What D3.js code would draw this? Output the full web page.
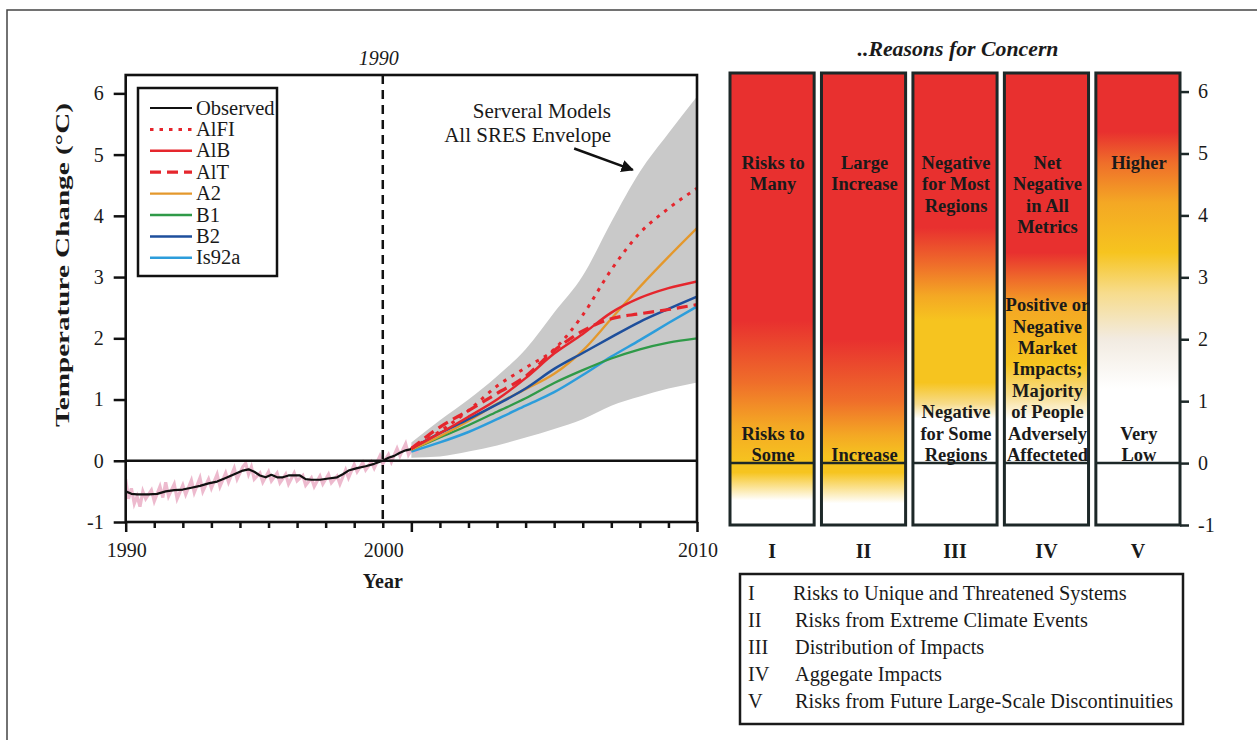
<!DOCTYPE html>
<html><head><meta charset="utf-8">
<script src="https://cdn.jsdelivr.net/npm/d3@7/dist/d3.min.js"></script>
<style>
body{margin:0;background:#fff}
svg{display:block}
text{font-family:"Liberation Serif","Times New Roman",serif;fill:#1a1a1a}
</style>
</head><body>
<svg id="c" width="1257" height="740"></svg>
<script>
// ---------------- DATA ----------------
const yTicks = [-1, 0, 1, 2, 3, 4, 5, 6];
const xTickYears = [1900,1910,1920,1930,1940,1950,1960,1970,1980,1990,2000,2010,2020,2030,2040,2050,2060,2070,2080,2090,2100];
const xMajorYears = [1900, 2000, 2100];
const xTickLabels = [["1990", 1900], ["2000", 1990], ["2010", 2100]];
const baseYear = 1990;
const baseYearLabel = "1990";

const obsYears  = [1900,1902,1904,1908,1911,1914,1917,1920,1923,1926,1929,1932,1935,1938,1941,1943,1945,1947,1949,1951,1953,1955,1957,1961,1963,1965,1968,1971,1974,1976,1978,1981,1984,1987,1990,1992,1994,1996,1998,2000];
const obsValues = [-0.50,-0.54,-0.55,-0.55,-0.54,-0.50,-0.48,-0.47,-0.44,-0.41,-0.37,-0.34,-0.28,-0.22,-0.16,-0.14,-0.18,-0.24,-0.27,-0.23,-0.27,-0.27,-0.24,-0.24,-0.30,-0.31,-0.31,-0.29,-0.27,-0.22,-0.16,-0.12,-0.09,-0.05,0.00,0.05,0.08,0.13,0.17,0.19];

const annualYears  = [1900,1901,1902,1903,1904,1905,1906,1907,1909,1910,1912,1913,1914,1915,1917,1918,1920,1921,1923,1924,1926,1927,1929,1930,1932,1933,1935,1936,1938,1939,1941,1942,1943,1944,1945,1947,1948,1950,1951,1953,1954,1956,1957,1959,1960,1962,1963,1965,1966,1968,1969,1971,1972,1974,1975,1977,1978,1980,1981,1983,1984,1986,1987,1989,1990,1992,1993,1995,1996,1998,1999,2001,2002];
const annualValues = [-0.30,-0.62,-0.45,-0.70,-0.58,-0.75,-0.50,-0.62,-0.48,-0.66,-0.42,-0.60,-0.35,-0.58,-0.38,-0.62,-0.40,-0.55,-0.32,-0.52,-0.28,-0.50,-0.30,-0.45,-0.22,-0.42,-0.20,-0.35,-0.12,-0.30,-0.10,-0.04,-0.22,-0.10,-0.30,-0.20,-0.35,-0.18,-0.33,-0.20,-0.36,-0.22,-0.38,-0.20,-0.33,-0.24,-0.40,-0.28,-0.42,-0.25,-0.38,-0.22,-0.36,-0.25,-0.38,-0.15,-0.28,-0.06,-0.18,-0.03,-0.15,-0.02,-0.12,0.08,-0.05,0.10,-0.02,0.20,0.08,0.28,0.10,0.25,0.12];

const projYears = [2000,2010,2020,2030,2040,2050,2060,2070,2080,2090,2100];
const envUpper  = [0.30,0.66,1.00,1.38,1.82,2.42,3.02,3.90,4.72,5.35,5.95];
const envLower  = [0.05,0.07,0.15,0.25,0.38,0.52,0.68,0.90,1.05,1.18,1.28];

const seriesNames = ["AlFI","AlB","AlT","A2","B1","B2","Is92a"];
const valsAlFI  = [0.20,0.48,0.82,1.22,1.52,1.82,2.38,3.12,3.72,4.12,4.45];
const valsAlB   = [0.20,0.45,0.72,1.00,1.35,1.75,2.07,2.42,2.66,2.82,2.93];
const valsAlT   = [0.20,0.55,0.82,1.10,1.38,1.80,2.12,2.32,2.40,2.47,2.55];
const valsA2    = [0.18,0.40,0.65,0.93,1.17,1.42,1.80,2.32,2.84,3.33,3.80];
const valsB1    = [0.18,0.38,0.58,0.80,1.02,1.27,1.48,1.67,1.82,1.93,2.00];
const valsB2    = [0.20,0.45,0.68,0.92,1.18,1.50,1.76,2.02,2.27,2.48,2.68];
const valsIs92a = [0.15,0.30,0.47,0.68,0.90,1.12,1.40,1.70,1.97,2.25,2.52];

const concernNumerals = ["I","II","III","IV","V"];
const concernTop = [["Risks to","Many"],["Large","Increase"],["Negative","for Most","Regions"],["Net","Negative","in All","Metrics"],["Higher"]];
const concernBottom = [["Risks to","Some"],["Increase"],["Negative","for Some","Regions"],["Positive or","Negative","Market","Impacts;","Majority","of People","Adversely","Affecteted"],["Very","Low"]];
const concernDescriptions = ["Risks to Unique and Threatened Systems","Risks from Extreme Climate Events","Distribution of Impacts","Aggegate Impacts","Risks from Future Large-Scale Discontinuities"];
// temperature levels (°C) where each bar's risk colour changes: [level, risk class]
const concernLevels = [
  [[6.3,"high"],[2.3,"high"],[1.3,"mid"],[0.6,"midlow"],[0,"low"],[-0.15,"low"],[-0.6,"none"],[-1,"none"]],
  [[6.3,"high"],[2.0,"high"],[1.0,"mid"],[0.45,"midlow"],[0.1,"low"],[-0.15,"low"],[-0.65,"none"],[-1,"none"]],
  [[6.3,"high"],[3.8,"high"],[3.2,"mid"],[2.7,"midlow"],[2.3,"low"],[1.3,"low"],[0.95,"pale"],[0.72,"none"],[-1,"none"]],
  [[6.3,"high"],[3.4,"high"],[2.95,"mid"],[2.5,"midlow"],[1.6,"low"],[1.1,"pale"],[0.7,"none"],[-1,"none"]],
  [[6.3,"high"],[5.35,"high"],[4.85,"mid"],[4.2,"midlow"],[3.4,"low"],[2.75,"pale"],[2.0,"paler"],[1.2,"none"],[-1,"none"]]
];

// ---------------- STYLE ----------------
const riskColor = {high:"#e8302f", mid:"#ef6e2a", midlow:"#f4a824", low:"#f6c41f", pale:"#f7dc8c", paler:"#f2ebe1", none:"#ffffff"};
const seriesStyle = {
  "AlFI":  {color:"#e5262d", width:3,   dash:"3.5,6"},
  "AlB":   {color:"#e5262d", width:2.5, dash:null},
  "AlT":   {color:"#e5262d", width:3.2, dash:"11,6"},
  "A2":    {color:"#e4982c", width:2.3, dash:null},
  "B1":    {color:"#2f9a48", width:2.3, dash:null},
  "B2":    {color:"#1e4f9c", width:2.5, dash:null},
  "Is92a": {color:"#2c9ddb", width:2.5, dash:null}
};
const seriesVals = {"AlFI":valsAlFI,"AlB":valsAlB,"AlT":valsAlT,"A2":valsA2,"B1":valsB1,"B2":valsB2,"Is92a":valsIs92a};
const fmt = d => String(d);

const svg = d3.select("#c");

// outer frame
svg.append("path").attr("d","M7,740 L7,10 L1257,10").attr("fill","none").attr("stroke","#444").attr("stroke-width",1.5);

// ---------------- LEFT CHART ----------------
const x = d3.scaleLinear().domain([1900,2100]).range([125.7,697]);
const y = d3.scaleLinear().domain([-1,6.3]).range([522,75]);

svg.append("clipPath").attr("id","plotclip").append("rect")
  .attr("x",x.range()[0]).attr("y",y.range()[1]).attr("width",x.range()[1]-x.range()[0]).attr("height",y.range()[0]-y.range()[1]);
const plot = svg.append("g").attr("clip-path","url(#plotclip)");

const env = projYears.map((yr,i)=>({year:yr, lo:envLower[i], hi:envUpper[i]}));
plot.append("path").datum(env)
  .attr("d", d3.area().x(d=>x(d.year)).y0(d=>y(d.lo)).y1(d=>y(d.hi)).curve(d3.curveMonotoneX))
  .attr("fill","#c9c9c9");

const annual = annualYears.map((yr,i)=>[yr, annualValues[i]]);
plot.append("path").datum(annual)
  .attr("d", d3.line().x(d=>x(d[0])).y(d=>y(d[1])))
  .attr("fill","none").attr("stroke","#eaaec5").attr("stroke-width",3.2).attr("opacity",0.85);

const obs = obsYears.map((yr,i)=>[yr, obsValues[i]]);
plot.append("path").datum(obs)
  .attr("d", d3.line().x(d=>x(d[0])).y(d=>y(d[1])))
  .attr("fill","none").attr("stroke","#111").attr("stroke-width",2.2).attr("stroke-linejoin","round");

const drawOrder = ["Is92a","B1","A2","B2","AlT","AlB","AlFI"];
drawOrder.forEach(name=>{
  const st = seriesStyle[name];
  const pts = projYears.map((yr,i)=>[yr, seriesVals[name][i]]);
  plot.append("path").datum(pts)
    .attr("d", d3.line().x(d=>x(d[0])).y(d=>y(d[1])).curve(d3.curveMonotoneX))
    .attr("fill","none").attr("stroke",st.color).attr("stroke-width",st.width)
    .attr("stroke-dasharray",st.dash);
});

// zero line
svg.append("line").attr("x1",x(1900)).attr("x2",x(2100)).attr("y1",y(0)).attr("y2",y(0))
  .attr("stroke","#111").attr("stroke-width",2.3);
// base year dashed line
svg.append("line").attr("x1",x(baseYear)).attr("x2",x(baseYear)).attr("y1",y(6.3)).attr("y2",y(-1))
  .attr("stroke","#111").attr("stroke-width",2.5).attr("stroke-dasharray","9,6");
svg.append("text").attr("x",x(baseYear)-4).attr("y",y(6.3)-10).attr("text-anchor","middle")
  .attr("font-size",20).attr("font-style","italic").attr("fill","#333").text(baseYearLabel);

// frame
svg.append("rect").attr("x",x(1900)).attr("y",y(6.3)).attr("width",x(2100)-x(1900)).attr("height",y(-1)-y(6.3))
  .attr("fill","none").attr("stroke","#111").attr("stroke-width",2.6);

// y axis
const yAx = svg.append("g").attr("transform",`translate(${x(1900)},0)`)
  .call(d3.axisLeft(y).tickValues(yTicks).tickSize(12).tickPadding(10).tickFormat(fmt));
yAx.select(".domain").remove();
yAx.selectAll(".tick line").attr("stroke","#111").attr("stroke-width",2.5);
yAx.selectAll(".tick text").attr("font-size",20).attr("fill","#222")
  .style("font-family",'"Liberation Serif",serif');

// x axis
const xAx = svg.append("g").attr("transform",`translate(0,${y(-1)})`)
  .call(d3.axisBottom(x).tickValues(xTickYears).tickSize(6).tickFormat(""));
xAx.select(".domain").remove();
xAx.selectAll(".tick line").attr("stroke","#111").attr("stroke-width",2.5)
  .attr("y2", d=> xMajorYears.includes(d) ? 10 : 6);
svg.append("g").selectAll("text").data(xTickLabels).join("text")
  .attr("x",d=>x(d[1])+1).attr("y",y(-1)+35).attr("text-anchor","middle")
  .attr("font-size",20).attr("fill","#222").text(d=>d[0]);

svg.append("text").attr("x",x(1990)).attr("y",588).attr("text-anchor","middle")
  .attr("font-size",20).attr("font-weight","bold").text("Year");
svg.append("text").attr("transform","translate(69,265) rotate(-90)").attr("text-anchor","middle")
  .attr("font-size",19).attr("font-weight","bold")
  .attr("textLength",324).attr("lengthAdjust","spacingAndGlyphs")
  .text("Temperature Change (°C)");

// envelope annotation
svg.append("text").attr("x",611).attr("y",118).attr("text-anchor","end").attr("font-size",21).attr("fill","#222").text("Serveral Models");
svg.append("text").attr("x",611).attr("y",142).attr("text-anchor","end").attr("font-size",21).attr("fill","#222").text("All SRES Envelope");
svg.append("defs").append("marker").attr("id","ah").attr("viewBox","0 0 10 10").attr("refX",9).attr("refY",5)
  .attr("markerWidth",5).attr("markerHeight",5).attr("orient","auto")
  .append("path").attr("d","M0,0 L10,5 L0,10 z").attr("fill","#111");
svg.append("line").attr("x1",x(2057)).attr("y1",y(5.1)).attr("x2",x(2077.5)).attr("y2",y(4.75))
  .attr("stroke","#111").attr("stroke-width",2.5).attr("marker-end","url(#ah)");

// legend
const legendRows = ["Observed"].concat(seriesNames);
const lg = svg.append("g");
lg.append("rect").attr("x",138).attr("y",88).attr("width",139).attr("height",188)
  .attr("fill","#fff").attr("stroke","#111").attr("stroke-width",2.5);
legendRows.forEach((name,i)=>{
  const cy = 108 + i*21.4;
  const st = name==="Observed" ? {color:"#111",width:2.2,dash:null} : seriesStyle[name];
  lg.append("line").attr("x1",150).attr("x2",192).attr("y1",cy).attr("y2",cy)
    .attr("stroke",st.color).attr("stroke-width",st.width).attr("stroke-dasharray",st.dash);
  lg.append("text").attr("x",196).attr("y",cy+6.5).attr("font-size",20.5).attr("fill","#222").text(name);
});

// ---------------- RIGHT PANEL ----------------
const yr = d3.scaleLinear().domain([-1,6.3]).range([525,73]);
const xb = d3.scaleBand().domain(concernNumerals).range([730,1180]).paddingInner(0.08);
const bw = xb.bandwidth();
const defs = svg.append("defs");
concernNumerals.forEach((n,i)=>{
  const g = defs.append("linearGradient").attr("id","grad"+i).attr("gradientUnits","userSpaceOnUse")
    .attr("x1",0).attr("x2",0).attr("y1",yr(6.3)).attr("y2",yr(-1));
  concernLevels[i].forEach(([v,c])=>{
    g.append("stop").attr("offset",(yr(v)-yr(6.3))/(yr(-1)-yr(6.3))).attr("stop-color",riskColor[c]);
  });
});

svg.append("text").attr("x",958).attr("y",56).attr("text-anchor","middle")
  .attr("font-size",21).attr("font-weight","bold").attr("font-style","italic").attr("fill","#222")
  .attr("textLength",201).attr("lengthAdjust","spacingAndGlyphs").text("..Reasons for Concern");

const bars = svg.append("g");
concernNumerals.forEach((n,i)=>{
  const bx = xb(n);
  bars.append("rect").attr("x",bx).attr("y",yr(6.3)).attr("width",bw).attr("height",yr(-1)-yr(6.3))
    .attr("fill",`url(#grad${i})`).attr("stroke","#1d2828").attr("stroke-width",3);
  bars.append("line").attr("x1",bx).attr("x2",bx+bw).attr("y1",yr(0)).attr("y2",yr(0))
    .attr("stroke","#1d2828").attr("stroke-width",2.5);
  const cx = bx + bw/2 + 1;
  concernTop[i].forEach((t,j)=>{
    bars.append("text").attr("x",cx).attr("y",169 + j*21.4).attr("text-anchor","middle")
      .attr("font-size",18.5).attr("font-weight","bold").attr("fill","#231f20").text(t);
  });
  const nb = concernBottom[i].length;
  concernBottom[i].forEach((t,j)=>{
    bars.append("text").attr("x",cx).attr("y",461 - (nb-1-j)*21.4).attr("text-anchor","middle")
      .attr("font-size",18.5).attr("font-weight","bold").attr("fill","#231f20").text(t);
  });
  bars.append("text").attr("x",bx+bw/2).attr("y",558).attr("text-anchor","middle")
    .attr("font-size",20).attr("font-weight","bold").attr("fill","#222").text(n);
});

const rAx = svg.append("g").attr("transform",`translate(${xb(concernNumerals[4])+bw},0)`)
  .call(d3.axisRight(yr).tickValues(yTicks).tickSize(9).tickPadding(9).tickFormat(fmt));
rAx.select(".domain").remove();
rAx.selectAll(".tick line").attr("stroke","#1d2828").attr("stroke-width",2.5);
rAx.selectAll(".tick text").attr("font-size",20).attr("fill","#555")
  .style("font-family",'"Liberation Serif",serif');

// description legend
const dl = svg.append("g");
dl.append("rect").attr("x",740).attr("y",574).attr("width",443).attr("height",150)
  .attr("fill","#fff").attr("stroke","#1a1a1a").attr("stroke-width",2.5);
concernNumerals.forEach((n,i)=>{
  const by = 600 + i*27;
  dl.append("text").attr("x",748).attr("y",by).attr("font-size",20.3).attr("fill","#222").text(n);
  dl.append("text").attr("x",i===0?793:795).attr("y",by).attr("font-size",20.3).attr("fill","#222").text(concernDescriptions[i]);
});
</script>
</body></html>
